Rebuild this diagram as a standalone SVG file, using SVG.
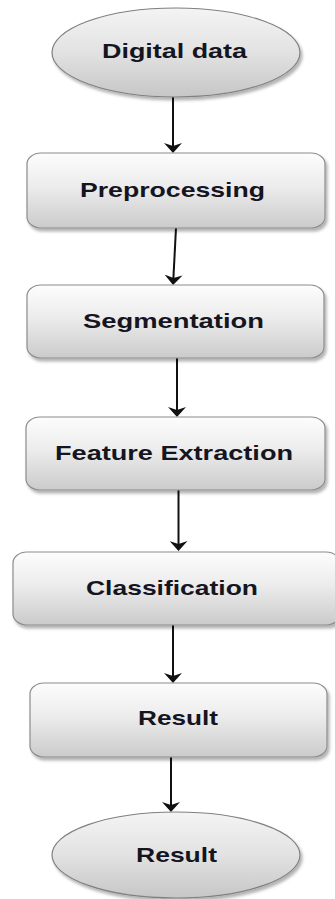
<svg xmlns="http://www.w3.org/2000/svg" width="335" height="899" viewBox="0 0 335 899">
<style>
.box{fill:url(#g);stroke:#8c8c8c;stroke-width:1.2;filter:url(#sh)}
.ell{fill:url(#ge);stroke:#808080;stroke-width:1.2;filter:url(#sh)}
.lbl{font-family:"Liberation Sans",Arial,sans-serif;font-weight:bold;font-size:21px;fill:#15151f}
.con{stroke:#111;stroke-width:2;fill:none;marker-end:url(#ah)}
</style>
<defs>
<linearGradient id="g" x1="0" y1="0" x2="0" y2="1">
<stop offset="0" stop-color="#fdfdfd"/>
<stop offset="0.45" stop-color="#ececec"/>
<stop offset="1" stop-color="#cbcbcb"/>
</linearGradient>
<linearGradient id="ge" x1="0" y1="0" x2="0" y2="1">
<stop offset="0" stop-color="#f4f4f4"/>
<stop offset="0.5" stop-color="#e2e2e2"/>
<stop offset="1" stop-color="#c6c6c6"/>
</linearGradient>
<filter id="sh" x="-10%" y="-10%" width="125%" height="130%">
<feDropShadow dx="2" dy="3" stdDeviation="1.5" flood-color="#000" flood-opacity="0.3"/>
</filter>
<marker id="ah" viewBox="0 0 10 18" markerWidth="10" markerHeight="18" refX="5" refY="9" orient="auto" markerUnits="userSpaceOnUse">
<path d="M0,0 L10,9 L0,18 L3,9 Z" fill="#111"/>
</marker>
</defs>
<g id="connectors">
<line class="con" x1="173" y1="97" x2="173" y2="148"/>
<line class="con" x1="176" y1="228" x2="173.3" y2="280"/>
<line class="con" x1="177" y1="358" x2="177" y2="412"/>
<line class="con" x1="178.5" y1="490" x2="178.5" y2="546"/>
<line class="con" x1="173" y1="625" x2="173" y2="678"/>
<line class="con" x1="171" y1="757" x2="171" y2="807"/>
</g>
<g id="digital-data">
<ellipse class="ell" cx="176" cy="52.5" rx="124" ry="44.5"/>
<text class="lbl" x="102" y="58" textLength="145" lengthAdjust="spacingAndGlyphs">Digital data</text>
</g>
<g id="preprocessing">
<rect class="box" x="27" y="153" width="298" height="75" rx="14" ry="11"/>
<text class="lbl" x="80" y="197" textLength="185" lengthAdjust="spacingAndGlyphs">Preprocessing</text>
</g>
<g id="segmentation">
<rect class="box" x="27" y="285" width="297" height="73" rx="14" ry="11"/>
<text class="lbl" x="83" y="328" textLength="181" lengthAdjust="spacingAndGlyphs">Segmentation</text>
</g>
<g id="feature-extraction">
<rect class="box" x="26" y="417" width="299" height="73" rx="14" ry="11"/>
<text class="lbl" x="55" y="460" textLength="238" lengthAdjust="spacingAndGlyphs">Feature Extraction</text>
</g>
<g id="classification">
<rect class="box" x="13" y="552" width="327" height="73" rx="14" ry="11"/>
<text class="lbl" x="86" y="595" textLength="172" lengthAdjust="spacingAndGlyphs">Classification</text>
</g>
<g id="result-box">
<rect class="box" x="30" y="683" width="297" height="74" rx="14" ry="11"/>
<text class="lbl" x="138" y="725" textLength="80" lengthAdjust="spacingAndGlyphs">Result</text>
</g>
<g id="result-end">
<ellipse class="ell" cx="176" cy="855" rx="124" ry="43"/>
<text class="lbl" x="136" y="862" textLength="81" lengthAdjust="spacingAndGlyphs">Result</text>
</g>
</svg>
